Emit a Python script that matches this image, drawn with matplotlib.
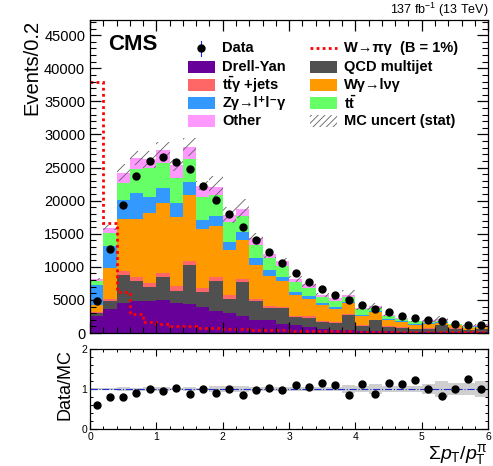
import numpy as np
import matplotlib
matplotlib.use("Agg")
import matplotlib.pyplot as plt
from matplotlib.patches import Rectangle
from matplotlib.ticker import MultipleLocator

plt.rcParams["font.family"] = ["Liberation Sans", "DejaVu Sans"]
plt.rcParams["mathtext.fontset"] = "custom"
plt.rcParams["mathtext.rm"] = "Liberation Sans"
plt.rcParams["mathtext.it"] = "Liberation Sans:italic"
plt.rcParams["mathtext.bf"] = "Liberation Sans:bold"
plt.rcParams["mathtext.default"] = "regular"
plt.rcParams["hatch.linewidth"] = 0.6

# Binning: 30 bins of width 0.2 in sum pT / pT(pi)
edges = np.round(np.arange(0, 6.01, 0.2), 2)

# Background contributions per bin (events / 0.2)
drell_yan = [2600, 3700, 4500, 4900, 4800, 5000, 4500, 4400, 3900, 3300, 3000, 2500, 2000, 1900, 1400,
             1150, 850, 650, 500, 500, 350, 250, 250, 200, 150, 200, 200, 150, 100, 150]
qcd = [400, 1100, 4300, 2900, 2100, 3450, 1900, 5900, 2300, 4600, 2200, 5200, 2800, 1900, 2400,
       1200, 1400, 950, 1000, 2200, 650, 1650, 650, 550, 400, 450, 960, 500, 300, 400]
ttgamma = [100, 300, 500, 600, 600, 600, 650, 650, 650, 600, 500, 450, 400, 300, 200,
           150, 250, 160, 150, 170, 150, 100, 100, 100, 100, 100, 90, 100, 100, 100]
wgamma = [1100, 4700, 7900, 8900, 10600, 10550, 10550, 9950, 8800, 7700, 6800, 5950, 5100, 4450, 3900,
          3300, 2700, 2520, 2000, 1630, 1450, 1170, 1000, 810, 600, 650, 310, 410, 250, 300]
zgamma = [3100, 3400, 2900, 3900, 2500, 2300, 2100, 1850, 1500, 1450, 1200, 1100, 1000, 900, 600,
          400, 330, 220, 250, 200, 170, 100, 160, 140, 150, 50, 90, 90, 50, 50]
ttbar = [500, 1900, 2600, 3600, 4400, 3750, 3700, 3500, 3450, 3250, 3000, 2500, 2000, 1850, 1600,
         1550, 1270, 930, 1000, 730, 830, 500, 340, 360, 360, 250, 210, 110, 100, 100]
other = [370, 800, 1500, 1650, 1260, 2050, 2000, 1850, 1650, 1200, 1100, 1100, 1060, 660, 770,
         400, 530, 340, 330, 380, 140, 310, 260, 150, 120, 260, 290, 30, 100, 60]

# MC statistical uncertainty on the total prediction
mc_stat = [200, 400, 1300, 1000, 1300, 1200, 900, 1400, 700, 1600, 1200, 1400, 800, 600, 500,
           400, 350, 300, 300, 650, 250, 500, 200, 200, 150, 250, 430, 200, 150, 220]

# Signal W -> pi gamma for B = 1%
signal = [38000, 16600, 6200, 2900, 1600, 1400, 1000, 1000, 800, 700, 600, 550, 500, 450, 400,
          350, 300, 300, 250, 250, 200, 200, 200, 150, 150, 150, 120, 120, 100, 100]

# Observed data
data = [4900, 12700, 19370, 23800, 26000, 26660, 25900, 24750, 22250, 20100, 18000, 16000, 14000, 12200, 10600,
        9050, 7700, 6640, 5700, 5000, 4230, 3570, 3170, 2600, 2300, 1960, 1760, 1400, 1260, 1160]

# Legend labels
lab_dy = "Drell-Yan"
lab_qcd = "QCD multijet"
lab_ttg = r"t$\bar{t}$γ +jets"
lab_wg = "Wγ→lνγ"
lab_zg = "Zγ→l⁺l⁻γ"
lab_tt = r"t$\bar{t}$"
lab_other = "Other"
lab_sig = "W→πγ  (B = 1%)"
lab_data = "Data"
lab_unc = "MC uncert (stat)"

components = [
    (drell_yan, "#660099"),
    (qcd, "#505050"),
    (ttgamma, "#ff6666"),
    (wgamma, "#ff9900"),
    (zgamma, "#3399ff"),
    (ttbar, "#66ff66"),
    (other, "#ff99ff"),
]
SIG_STYLE = dict(color="#ff0000", lw=2.0, ls=(0, (1, 1.2)))
HATCH_COLOR = "#606060"

centers = 0.5 * (edges[:-1] + edges[1:])
data_arr = np.array(data, dtype=float)
data_err = np.sqrt(data_arr)

fig = plt.figure(figsize=(4.93, 4.66), dpi=100)
ax = fig.add_axes([0.1826, 0.2854, 0.8074, 0.6717])
rax = fig.add_axes([0.1826, 0.0794, 0.8074, 0.1716])

# Stacked backgrounds
bottom = np.zeros(len(centers))
for vals, col in components:
    vals = np.asarray(vals, dtype=float)
    ax.stairs(bottom + vals, edges, baseline=bottom, fill=True, color=col, lw=0)
    bottom = bottom + vals
total = bottom
err = np.asarray(mc_stat, dtype=float)

# MC stat uncertainty band
ax.stairs(total + err, edges, baseline=total - err, fill=True, facecolor="none",
          edgecolor=HATCH_COLOR, hatch="///", lw=0)

# Signal
ax.stairs(signal, edges, baseline=None, **SIG_STYLE)

# Data
ax.errorbar(centers, data_arr, yerr=data_err, fmt="o", color="black", ms=5,
            ecolor="#2020ff", elinewidth=0.8, capsize=0, zorder=5)

ax.set_xlim(0, 6)
ax.set_ylim(0, 47300)
ax.xaxis.set_major_locator(MultipleLocator(1))
ax.xaxis.set_minor_locator(MultipleLocator(0.2))
ax.yaxis.set_major_locator(MultipleLocator(5000))
ax.yaxis.set_minor_locator(MultipleLocator(1000))
ax.tick_params(which="both", direction="in", top=True, right=True, labelbottom=False)
ax.tick_params(which="major", length=8, width=0.9, labelsize=10.5)
ax.tick_params(which="minor", length=4, width=0.8)
ax.set_ylabel("Events/0.2", fontsize=14.5, loc="top", labelpad=2)

ax.text(0.045, 0.955, "CMS", transform=ax.transAxes, fontsize=16, fontweight="bold",
        ha="left", va="top")
ax.text(1.0, 1.004, r"137 fb$^{-1}$ (13 TeV)", transform=ax.transAxes, fontsize=9,
        ha="right", va="bottom")

# Legend: two columns with evenly spaced rows (axes-fraction layout)
tr = ax.transAxes
row_y = [0.909, 0.850, 0.792, 0.734, 0.676]
col_x = [0.246, 0.553]
box_w, box_h = 0.068, 0.038
text_dx = 0.086
fp = dict(fontsize=10.5, fontweight="bold", va="center", ha="left", transform=tr)

def legend_box(x, y, **kw):
    ax.add_patch(Rectangle((x, y - box_h / 2), box_w, box_h, transform=tr, clip_on=False, **kw))

# left column
xl = col_x[0]
ax.plot([xl + box_w / 2] * 2, [row_y[0] - 0.025, row_y[0] + 0.025], color="#2020ff", lw=0.8, transform=tr)
ax.plot([xl + box_w / 2], [row_y[0]], "o", color="black", ms=5, transform=tr)
ax.text(xl + text_dx, row_y[0], lab_data, **fp)
for y, (vals, col), lab in zip(row_y[1:], [components[0], components[2], components[4], components[6]],
                               [lab_dy, lab_ttg, lab_zg, lab_other]):
    legend_box(xl, y, facecolor=col, edgecolor="none", lw=0)
    ax.text(xl + text_dx, y, lab, **fp)

# right column
xr = col_x[1]
ax.plot([xr, xr + box_w], [row_y[0]] * 2, transform=tr, **SIG_STYLE)
ax.text(xr + text_dx, row_y[0], lab_sig, **fp)
for y, (vals, col), lab in zip(row_y[1:4], [components[1], components[3], components[5]],
                               [lab_qcd, lab_wg, lab_tt]):
    legend_box(xr, y, facecolor=col, edgecolor="none", lw=0)
    ax.text(xr + text_dx, y, lab, **fp)
legend_box(xr, row_y[4], facecolor="white", edgecolor=HATCH_COLOR, hatch="/////", lw=0)
ax.text(xr + text_dx, row_y[4], lab_unc, **fp)

# Ratio panel
ratio = data_arr / total
ratio_err = data_err / total
rel_unc = err / total
rax.stairs(1 + rel_unc, edges, baseline=1 - rel_unc, fill=True, facecolor="#cfcfcf",
           edgecolor="none", lw=0)
rax.axhline(1.0, color="#2030d0", lw=0.8, ls="-.")
rax.errorbar(centers, ratio, yerr=ratio_err, fmt="o", color="black", ms=5,
             ecolor="black", elinewidth=0.8, capsize=0, zorder=5)
rax.set_xlim(0, 6)
rax.set_ylim(0, 2)
rax.xaxis.set_major_locator(MultipleLocator(1))
rax.xaxis.set_minor_locator(MultipleLocator(0.2))
rax.yaxis.set_major_locator(MultipleLocator(1))
rax.yaxis.set_minor_locator(MultipleLocator(0.2))
rax.tick_params(which="both", direction="in", top=True, right=True)
rax.tick_params(which="major", length=5, width=0.8, labelsize=7.5, pad=2)
rax.tick_params(which="minor", length=2.5, width=0.7)
rax.set_ylabel("Data/MC", fontsize=13, loc="top", labelpad=6)
rax.set_xlabel(r"Σ$\mathit{p}_{T}$/$\mathit{p}_{T}^{π}$", fontsize=14, loc="right", labelpad=0)

for a in (ax, rax):
    for s in a.spines.values():
        s.set_linewidth(0.9)

fig.savefig("out.png", dpi=100)
